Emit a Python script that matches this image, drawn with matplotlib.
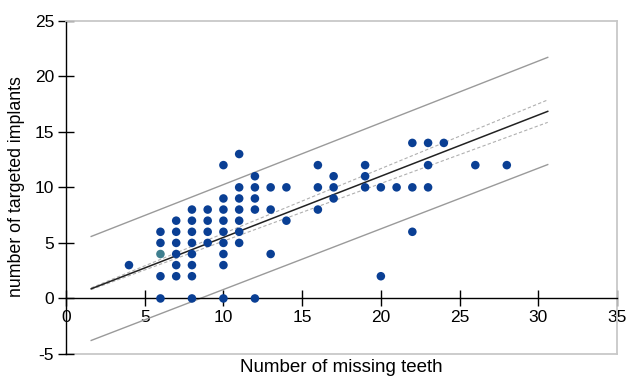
import matplotlib
matplotlib.use("Agg")
import matplotlib.pyplot as plt
import numpy as np

plt.rcParams["font.family"] = ["Liberation Sans", "DejaVu Sans"]
plt.rcParams["axes.unicode_minus"] = False

# Scatter data (number of missing teeth, number of targeted implants)
missing_teeth = [4,
                 6, 6, 6, 6,
                 7, 7, 7, 7, 7, 7,
                 8, 8, 8, 8, 8, 8, 8, 8,
                 9, 9, 9, 9,
                 10, 10, 10, 10, 10, 10, 10, 10, 10,
                 11, 11, 11, 11, 11, 11, 11,
                 12, 12, 12, 12, 12,
                 13, 13, 13,
                 14, 14,
                 16, 16, 16,
                 17, 17, 17,
                 19, 19, 19,
                 20, 20,
                 21,
                 22, 22, 22,
                 23, 23, 23,
                 24, 26, 28]
implants = [3,
            0, 2, 5, 6,
            2, 3, 4, 5, 6, 7,
            0, 2, 3, 4, 5, 6, 7, 8,
            5, 6, 7, 8,
            0, 3, 4, 5, 6, 7, 8, 9, 12,
            5, 6, 7, 8, 9, 10, 13,
            0, 8, 9, 10, 11,
            4, 8, 10,
            7, 10,
            8, 10, 12,
            9, 10, 11,
            10, 11, 12,
            2, 10,
            10,
            6, 10, 14,
            10, 12, 14,
            14, 12, 12]
# highlighted point
hl_x = [6]
hl_y = [4]

# Fitted lines
line_x = [1.6, 30.6]
fit_y = [0.87, 16.84]
pi_upper = [5.58, 21.7]
pi_lower = [-3.78, 12.05]
ci_upper = [0.95, 17.87]
ci_lower = [0.80, 15.85]

xticks = [0, 5, 10, 15, 20, 25, 30, 35]
yticks = [-5, 0, 5, 10, 15, 20, 25]

fig = plt.figure(figsize=(6.27, 3.78), dpi=100)
ax = fig.add_axes([66/627, 1-354/378, (617-66)/627, (354-20.7)/378])

ax.set_xlim(0, 35)
ax.set_ylim(-5, 25)

frame_col = "#c8c8c8"
for s in ["top", "right"]:
    ax.spines[s].set_color(frame_col)
    ax.spines[s].set_linewidth(1.3)
ax.spines["left"].set_position(("data", 0))
ax.spines["bottom"].set_position(("data", 0))
ax.spines["left"].set_color("black")
ax.spines["bottom"].set_color("black")
ax.spines["left"].set_linewidth(1.0)
ax.spines["bottom"].set_linewidth(1.0)
ax.axhline(-5, color=frame_col, lw=1.3, clip_on=False, zorder=0)

ax.set_xticks(xticks)
ax.set_yticks(yticks)
ax.tick_params(axis="both", direction="inout", length=11, width=1.0,
               labelsize=12.5, colors="black")
ax.tick_params(axis="x", pad=3)
ax.tick_params(axis="y", pad=3)

ax.plot(line_x, pi_upper, color="#9a9a9a", lw=1.0, zorder=2)
ax.plot(line_x, pi_lower, color="#9a9a9a", lw=1.0, zorder=2)
ax.plot(line_x, ci_upper, color="#b0b0b0", lw=0.8, ls=(0, (3, 2)), zorder=2)
ax.plot(line_x, ci_lower, color="#b0b0b0", lw=0.8, ls=(0, (3, 2)), zorder=2)
ax.plot(line_x, fit_y, color="#222222", lw=1.1, zorder=3)

ax.scatter(missing_teeth, implants, s=38, color="#0a3f94", edgecolors="none",
           zorder=4, clip_on=False)
ax.scatter(hl_x, hl_y, s=38, color="#3f7f8f", edgecolors="none", zorder=4)

fig.text(341/627, 1-367/378, "Number of missing teeth", fontsize=13.5,
         ha="center", va="center")
fig.text(17/627, 1-187/378, "number of targeted implants", fontsize=12.8,
         ha="center", va="center", rotation=90)

fig.savefig("out.png", dpi=100)
